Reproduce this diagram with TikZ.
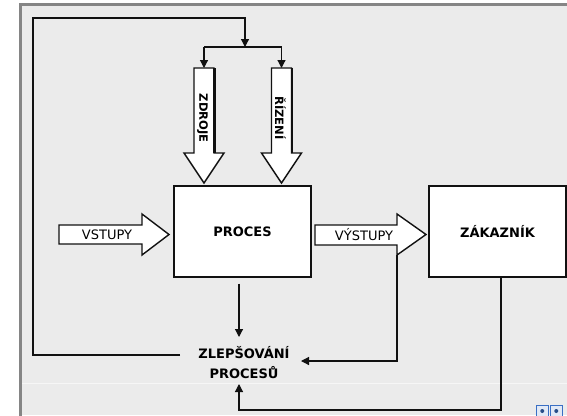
\documentclass[tikz,border=0pt]{standalone}
\usepackage{fontspec}
\setmainfont{DejaVu Sans}
\usepackage{tikz}
\usetikzlibrary{arrows.meta,calc}
\definecolor{zlbg}{HTML}{EBEBEB}
\definecolor{zlframe}{HTML}{858585}
\definecolor{zlline}{HTML}{111111}
\definecolor{zlicon}{HTML}{3A6FC4}
\tikzset{
  zl/box/.style={
    draw=zlline, fill=white, line width=1.3pt, minimum width=137pt, minimum height=91pt,
    font=\bfseries\fontsize{13}{15}\selectfont, inner sep=0pt
  },
  zl/text/.style={
    align=center, inner sep=0pt, font=\bfseries\fontsize{13}{20}\selectfont
  },
  zl/blocklbl/.style={inner sep=0pt, font=\fontsize{13}{15}\selectfont},
  zl/vlbl/.style={inner sep=0pt, rotate=-90, font=\bfseries\fontsize{11.5}{13}\selectfont},
  zl/block/.style={draw=zlline, fill=white, line width=1.4pt, line join=miter},
  zl/conn/.style={zlline, line width=1.2pt},
  zl/arr/.style={-{Triangle[length=8pt,width=8pt]}, zlline, line width=1.2pt}
}
\begin{document}
\begin{tikzpicture}[x=1pt, y=-1pt]
  \useasboundingbox (0,0) rectangle (567,415);
  % window background
  \fill[white] (0,0) rectangle (567,415);
  \fill[zlbg] (20.5,4) rectangle (567,415);
  \draw[zlframe, line width=3pt] (20.5,420) -- (20.5,4) -- (570,4);
  \draw[white!55!zlbg, line width=1pt] (22,383.5) -- (567,383.5);
  \foreach \x in {536.5,550.5} {
    \draw[zlicon, fill=white!85!zlicon, line width=0.8pt] (\x,405.5) rectangle ++(11.5,12);
    \fill[zlicon!70!black] (\x+5.75,411) circle (2);
  }

  % boxes
  \node[zl/box] (proces) at (242.5,231.5) {PROCES};
  \node[zl/box] (zakaznik) at (497.5,231.5) {ZÁKAZNÍK};
  \node[zl/text] (zlep) at (244,363) {ZLEPŠOVÁNÍ\\PROCESŮ};

  % block arrows
  \draw[zl/block] (59,225) -- (142,225) -- (142,214) -- (169,234.5)
    -- (142,255) -- (142,244) -- (59,244) -- cycle;
  \node[zl/blocklbl] (vstupy) at (107,234.5) {VSTUPY};
  \draw[zl/block] (315,225) -- (397,225) -- (397,214) -- (426,234.5)
    -- (397,255) -- (397,245) -- (315,245) -- cycle;
  \node[zl/blocklbl] (vystupy) at (364,235) {VÝSTUPY};
  \foreach \c/\n in {204/zdroje,281.5/rizeni} {
    \draw[zl/block] (\c-10,68) -- (\c+10,68) -- (\c+10,153) -- (\c+20,153)
      -- (\c,183) -- (\c-20,153) -- (\c-10,153) -- cycle;
    \draw[zlline, line width=2.6pt] (\c+10.6,68) -- (\c+10.6,153);
    \coordinate (\n-top) at (\c,68);
  }
  \node[zl/vlbl] (zdroje) at (202.5,118) {ZDROJE};
  \node[zl/vlbl] (rizeni) at (280.5,118) {ŘÍZENÍ};

  % named ends
  \coordinate (split) at (245,47);
  \coordinate (vyhead) at (397,255);
  \coordinate (zlepN) at (239,337);
  \coordinate (zlepE) at (301,361);
  \coordinate (zlepS) at (239,384);
  \coordinate (zlepW) at (180,355);

  % connectors
  \draw[zl/arr] (zlepW) -| (33,18) -| (split);
  \draw[zl/conn] (zdroje-top |- split) -- (rizeni-top |- split);
  \draw[zl/arr] (zdroje-top |- split) -- (zdroje-top);
  \draw[zl/arr] (rizeni-top |- split) -- (rizeni-top);
  \draw[zl/arr, shorten <=6pt] (proces.south -| zlepN) -- (zlepN);
  \draw[zl/arr] (vyhead) |- (zlepE);
  \draw[zl/arr] (zakaznik.south -| 501,0) -- (501,410) -| (zlepS);
\end{tikzpicture}
\end{document}
